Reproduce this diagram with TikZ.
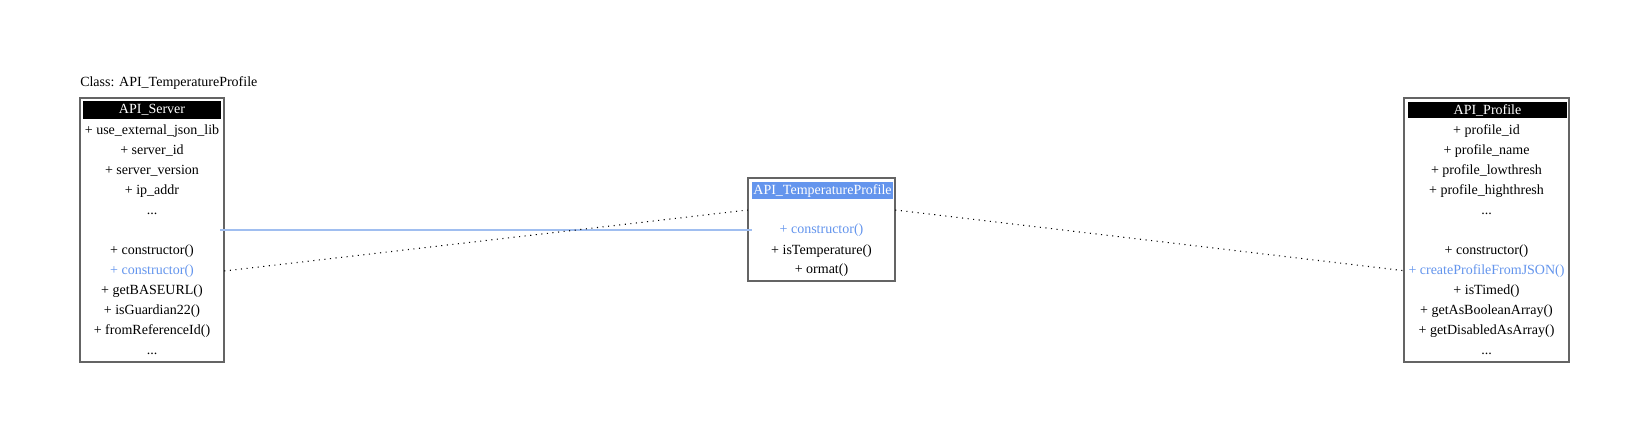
\documentclass[tikz,border=0pt]{standalone}
\usepackage{fontspec}
\setmainfont{Liberation Serif}
\definecolor{umlblue}{RGB}{100,149,237}
\definecolor{linkblue}{RGB}{160,190,240}
\definecolor{boxgray}{RGB}{100,100,100}
\begin{document}
\begin{tikzpicture}[x=0.75pt,y=-0.75pt,
  box/.style={draw=boxgray,line width=1.1pt,fill=white,inner sep=0pt},
  hdr/.style={inner sep=0pt,text=white,font=\fontsize{10.5}{12}\selectfont},
  row/.style={inner sep=0pt,minimum height=15pt,font=\fontsize{10.5}{12}\selectfont},
  hl/.style={row,text=umlblue},
  solidlink/.style={draw=linkblue,line width=0.9pt},
  dotlink/.style={draw=black,line width=0.8pt,dash pattern=on 0.8pt off 3.4pt}
]
\useasboundingbox (0,0) rectangle (1649,438);
% title
\node[anchor=west,inner sep=0pt,font=\fontsize{10.5}{12}\selectfont] (title) at (80,83) {Class: API\_TemperatureProfile};

% boxes
\node[box,minimum width=108pt,minimum height=198pt] (lbox) at (152,230) {};
\node[box,minimum width=110.25pt,minimum height=77.25pt] (mbox) at (821.5,229.5) {};
\node[box,minimum width=123.75pt,minimum height=198pt] (rbox) at (1486.5,230) {};

% headers
\node[fill=black,minimum width=103.5pt,minimum height=13.5pt,inner sep=0pt] (lhbg) at (152,110) {};
\node[hdr] (lh) at (152,110) {API\_Server};
\node[fill=umlblue,minimum width=105.75pt,minimum height=12.75pt,inner sep=0pt] (mhbg) at (822.5,190.5) {};
\node[hdr] (mh) at (822.5,191) {API\_TemperatureProfile};
\node[fill=black,minimum width=119.25pt,minimum height=12pt,inner sep=0pt] (rhbg) at (1487.5,110) {};
\node[hdr] (rh) at (1487.5,110) {API\_Profile};

% left rows
\begin{scope}[every node/.append style={minimum width=108pt}]
\node[row] (l1) at (152,131) {+ use\_external\_json\_lib};
\node[row] (l2) at (152,151) {+ server\_id};
\node[row] (l3) at (152,171) {+ server\_version};
\node[row] (l4) at (152,191) {+ ip\_addr};
\node[row] (l5) at (152,214) {...};
\node[row] (l6) at (152,230) {};
\node[row] (l7) at (152,251) {+ constructor()};
\node[hl]  (l8) at (152,271) {+ constructor()};
\node[row] (l9) at (152,291) {+ getBASEURL()};
\node[row] (l10) at (152,311) {+ isGuardian22()};
\node[row] (l11) at (152,331) {+ fromReferenceId()};
\node[row] (l12) at (152,354) {...};
\end{scope}

% middle rows
\begin{scope}[every node/.append style={minimum width=110.25pt}]
\node[row] (m1) at (821.5,210) {};
\node[hl]  (m2) at (821.5,230) {+ constructor()};
\node[row] (m3) at (821.5,251) {+ isTemperature()};
\node[row] (m4) at (821.5,270) {+ ormat()};
\end{scope}

% right rows
\begin{scope}[every node/.append style={minimum width=123.75pt}]
\node[row] (r1) at (1486.5,131) {+ profile\_id};
\node[row] (r2) at (1486.5,151) {+ profile\_name};
\node[row] (r3) at (1486.5,171) {+ profile\_lowthresh};
\node[row] (r4) at (1486.5,191) {+ profile\_highthresh};
\node[row] (r5) at (1486.5,214) {...};
\node[row] (r6) at (1486.5,231) {};
\node[row] (r7) at (1486.5,251) {+ constructor()};
\node[hl]  (r8) at (1486.5,271) {+ createProfileFromJSON()};
\node[row] (r9) at (1486.5,291) {+ isTimed()};
\node[row] (r10) at (1486.5,311) {+ getAsBooleanArray()};
\node[row] (r11) at (1486.5,331) {+ getDisabledAsArray()};
\node[row] (r12) at (1486.5,354) {...};
\end{scope}

% connectors
\draw[solidlink] ([xshift=-3pt]l6.east) -- ([xshift=3pt]m2.west |- l6.east);
\draw[dotlink] (l8.east) -- (m1.west);
\draw[dotlink] (m1.east) -- ([xshift=2pt]r8.west);
\end{tikzpicture}
\end{document}
